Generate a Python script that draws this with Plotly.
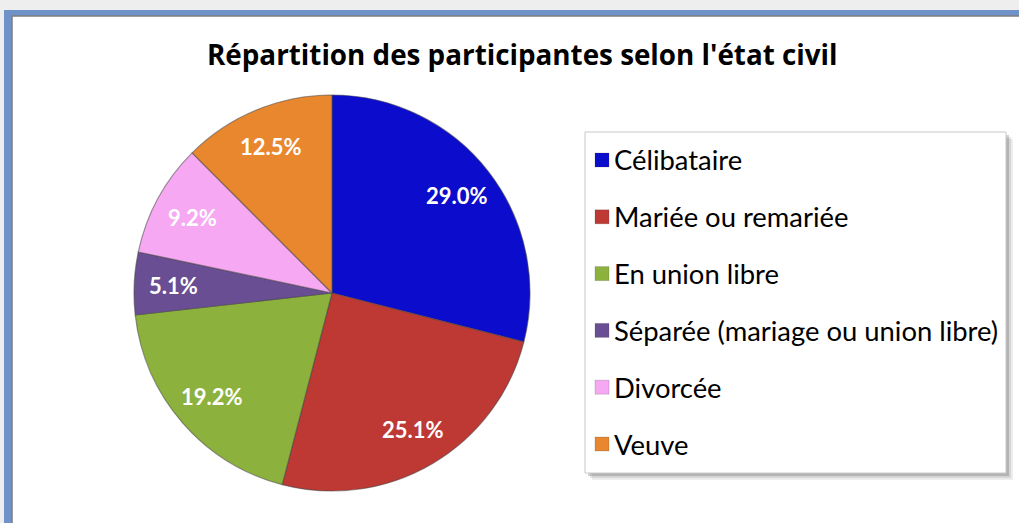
import math
import plotly.graph_objects as go

# ---- data ----
categories = ["Célibataire", "Mariée ou remariée", "En union libre",
              "Séparée (mariage ou union libre)", "Divorcée", "Veuve"]
values = [29.0, 25.1, 19.2, 5.1, 9.2, 12.5]
colors = ["#0c0ccc", "#be3834", "#8cb23d", "#6a4e93", "#f7a8f3", "#e8872e"]
title_text = "Répartition des participantes selon l'état civil"

W, H = 1019, 523


def px(x):
    return x / W


def py(y):
    return 1 - y / H


labels_txt = [f"{v:.1f}%" for v in values]

# pie geometry (pixels)
cx, cy, r = 332, 293, 198

fig = go.Figure()
fig.add_trace(go.Pie(
    labels=categories,
    values=values,
    textinfo="none",
    marker=dict(colors=colors, line=dict(color="rgba(70,70,70,0.55)", width=1.2)),
    sort=False,
    direction="clockwise",
    rotation=0,
    showlegend=False,
    hoverinfo="label+percent",
    domain=dict(x=[px(cx - r), px(cx + r)], y=[py(cy + r), py(cy - r)]),
))

shapes = []
# outer frame: blue band + white chart area
shapes.append(dict(type="rect", xref="paper", yref="paper",
                   x0=px(4), x1=px(W + 20), y0=py(H + 20), y1=py(10),
                   fillcolor="#6f93c8", line=dict(width=0), layer="below"))
shapes.append(dict(type="rect", xref="paper", yref="paper",
                   x0=px(12), x1=px(W + 20), y0=py(H + 20), y1=py(16),
                   fillcolor="white", line=dict(color="#7d7d7d", width=1.5), layer="below"))

# legend box with shadow
lx0, lx1, ly0, ly1 = 585, 1006, 132, 473
for off, alpha in [(7, 0.10), (5, 0.15), (3, 0.25)]:
    shapes.append(dict(type="rect", xref="paper", yref="paper",
                       x0=px(lx0 + off), x1=px(lx1 + off), y0=py(ly1 + off), y1=py(ly0 + off),
                       fillcolor=f"rgba(80,80,80,{alpha})", line=dict(width=0), layer="below"))
shapes.append(dict(type="rect", xref="paper", yref="paper",
                   x0=px(lx0), x1=px(lx1), y0=py(ly1), y1=py(ly0),
                   fillcolor="white", line=dict(color="#c8c8c8", width=1), layer="below"))

annotations = []
item_y0, item_gap = 160, 56.8
for i, (cat, col) in enumerate(zip(categories, colors)):
    yc = item_y0 + i * item_gap
    shapes.append(dict(type="rect", xref="paper", yref="paper",
                       x0=px(595), x1=px(609), y0=py(yc + 7), y1=py(yc - 7),
                       fillcolor=col, line=dict(color="rgba(60,60,60,0.4)", width=0.5)))
    annotations.append(dict(x=px(612), y=py(yc), xref="paper", yref="paper",
                            text=cat, showarrow=False, xanchor="left", yanchor="middle",
                            font=dict(family="Lato, Open Sans, sans-serif", size=27.4, color="black")))

# percentage labels placed at slice mid-angles (derived from the values)
total = sum(values)
cum = 0.0
for v, t in zip(values, labels_txt):
    mid = (cum + v / 2) / total * 2 * math.pi
    cum += v
    d = 0.8 * r
    x = cx + d * math.sin(mid)
    y = cy - d * math.cos(mid)
    annotations.append(dict(x=px(x), y=py(y), xref="paper", yref="paper",
                            text=f"<b>{t}</b>", showarrow=False,
                            xanchor="center", yanchor="middle",
                            font=dict(family="Lato, Open Sans, sans-serif", size=22, color="white")))

annotations.append(dict(x=px(522), y=py(54), xref="paper", yref="paper",
                        text=f"<b>{title_text}</b>", showarrow=False,
                        xanchor="center", yanchor="middle",
                        font=dict(family="Open Sans, sans-serif", size=27.8, color="black")))

fig.update_layout(
    width=W, height=H,
    margin=dict(l=0, r=0, t=0, b=0),
    paper_bgcolor="#eeeeee",
    plot_bgcolor="white",
    shapes=shapes,
    annotations=annotations,
)

fig.write_html("out.html", config={"displayModeBar": False},
               post_script="document.body.style.margin='0';document.body.style.overflow='hidden';")
